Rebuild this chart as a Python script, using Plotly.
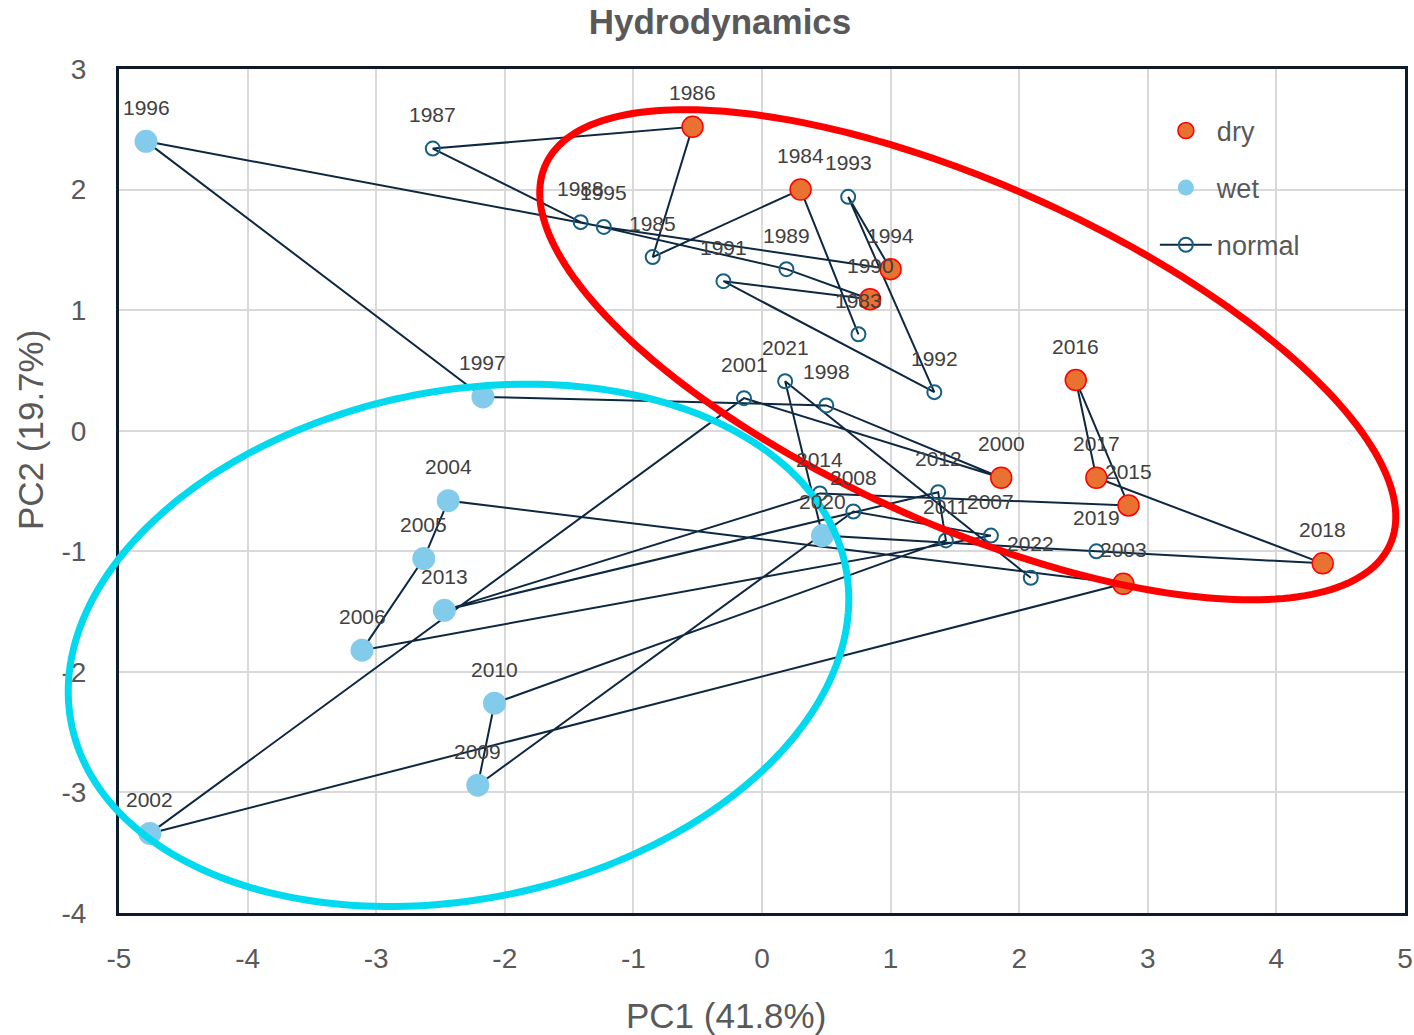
import numpy as np
import plotly.graph_objects as go

# PCA scores per year (PC1, PC2) and hydrological class
years = [1983, 1984, 1985, 1986, 1987, 1988, 1989, 1990, 1991, 1992,
         1993, 1994, 1995, 1996, 1997, 1998, 2000, 2001, 2002, 2003,
         2004, 2005, 2006, 2007, 2008, 2009, 2010, 2011, 2012, 2013,
         2014, 2015, 2016, 2017, 2018, 2019, 2020, 2021, 2022]
pc1 = [0.75, 0.30, -0.85, -0.54, -2.56, -1.41, 0.19, 0.84, -0.30, 1.34,
       0.67, 1.00, -1.23, -4.79, -2.17, 0.50, 1.86, -0.14, -4.76, 2.81,
       -2.44, -2.63, -3.11, 1.78, 0.71, -2.21, -2.08, 1.43, 1.37, -2.47,
       0.45, 2.85, 2.44, 2.60, 4.36, 2.60, 0.47, 0.18, 2.09]
pc2 = [0.80, 2.00, 1.44, 2.52, 2.34, 1.73, 1.34, 1.09, 1.24, 0.32,
       1.94, 1.34, 1.69, 2.40, 0.28, 0.21, -0.39, 0.27, -3.34, -1.27,
       -0.58, -1.06, -1.82, -0.87, -0.67, -2.94, -2.26, -0.91, -0.51, -1.49,
       -0.52, -0.62, 0.42, -0.39, -1.10, -1.00, -0.87, 0.41, -1.22]
klass = ["normal", "dry", "normal", "dry", "normal", "normal", "normal", "dry", "normal", "normal",
         "normal", "dry", "normal", "wet", "wet", "normal", "dry", "normal", "wet", "dry",
         "wet", "wet", "wet", "normal", "normal", "wet", "wet", "normal", "normal", "wet",
         "normal", "dry", "dry", "dry", "dry", "normal", "wet", "normal", "normal"]

x_ticks = [-5, -4, -3, -2, -1, 0, 1, 2, 3, 4, 5]
y_ticks = [-4, -3, -2, -1, 0, 1, 2, 3]
x_range = [-5, 5]
y_range = [-4, 3]

# Cluster outlines: centre (data units), semi-axes and tilt (screen pixels / degrees)
dry_cluster = dict(cx=1.60, cy=0.63, a=463, b=170, tilt=24.2, color="#ff0000")
wet_cluster = dict(cx=-2.36, cy=-1.78, a=395, b=254, tilt=-11.6, color="#00d9ee")

W, H = 1414, 1035
margin = dict(l=119, r=9, t=69, b=122, pad=0)
plot_w = W - margin["l"] - margin["r"]
plot_h = H - margin["t"] - margin["b"]

LINE_COLOR = "#0e2841"
TEXT_GREY = "#595959"
LABEL_GREY = "#404040"


def subset(cls):
    idx = [i for i, k in enumerate(klass) if k == cls]
    return [pc1[i] for i in idx], [pc2[i] for i in idx]


fig = go.Figure()

# chronological trajectory through all years
fig.add_trace(go.Scatter(x=pc1, y=pc2, mode="lines", showlegend=False,
                         line=dict(color=LINE_COLOR, width=2), hoverinfo="skip"))

dx, dy = subset("dry")
fig.add_trace(go.Scatter(x=dx, y=dy, mode="markers", name="dry",
                         marker=dict(size=21, color="#e97132",
                                     line=dict(color="#ff0000", width=1.5))))
wx, wy = subset("wet")
fig.add_trace(go.Scatter(x=wx, y=wy, mode="markers", name="wet",
                         marker=dict(size=23, color="#83cbeb", line=dict(width=0))))
nx, ny = subset("normal")
fig.add_trace(go.Scatter(x=nx, y=ny, mode="markers", name="normal", showlegend=False,
                         legendgroup="normal",
                         marker=dict(size=14, symbol="circle-open", color="#156082",
                                     line=dict(width=2))))
# legend entry for the "normal" series: trajectory line with open marker
fig.add_trace(go.Scatter(x=[None], y=[None], mode="lines+markers", name="normal",
                         legendgroup="normal",
                         line=dict(color=LINE_COLOR, width=2),
                         marker=dict(size=14, symbol="circle-open", color="#156082",
                                     line=dict(width=2))))

# year labels above each point
for yr, xv, yv in zip(years, pc1, pc2):
    fig.add_annotation(x=xv, y=yv, text=str(yr), showarrow=False, yshift=34,
                       font=dict(family="Liberation Sans", size=21, color=LABEL_GREY))


def ellipse_path(c, n=240):
    sx = plot_w / (x_range[1] - x_range[0])
    sy = plot_h / (y_range[1] - y_range[0])
    th = np.radians(c["tilt"])
    t = np.linspace(0, 2 * np.pi, n)
    px = c["a"] * np.cos(t) * np.cos(th) - c["b"] * np.sin(t) * np.sin(th)
    py = c["a"] * np.cos(t) * np.sin(th) + c["b"] * np.sin(t) * np.cos(th)
    xd = c["cx"] + px / sx
    yd = c["cy"] - py / sy
    xp = (xd - x_range[0]) / (x_range[1] - x_range[0])
    yp = (yd - y_range[0]) / (y_range[1] - y_range[0])
    pts = [f"{a:.5f},{b:.5f}" for a, b in zip(xp, yp)]
    return "M" + " L".join(pts) + " Z"


for c in (dry_cluster, wet_cluster):
    fig.add_shape(type="path", path=ellipse_path(c), xref="paper", yref="paper",
                  line=dict(color=c["color"], width=7), fillcolor="rgba(0,0,0,0)",
                  layer="above")

# axis titles
fig.add_annotation(text="PC1 (41.8%)", xref="paper", yref="paper",
                   x=(726 - margin["l"]) / plot_w, y=-(1016 - (H - margin["b"])) / plot_h,
                   showarrow=False, xanchor="center", yanchor="middle",
                   font=dict(family="Liberation Sans", size=35, color=TEXT_GREY))
fig.add_annotation(text="PC2 (19.7%)", xref="paper", yref="paper", textangle=-90,
                   x=-(margin["l"] - 30) / plot_w, y=(H - margin["b"] - 430) / plot_h,
                   showarrow=False, xanchor="center", yanchor="middle",
                   font=dict(family="Liberation Sans", size=35, color=TEXT_GREY))

axis_common = dict(showgrid=True, gridcolor="#d9d9d9", gridwidth=2, zeroline=False,
                   showline=True, linecolor="#0d1b2a", linewidth=3, mirror=True,
                   ticks="", tickfont=dict(family="Liberation Sans", size=28, color=TEXT_GREY),
                   automargin=False)

fig.update_layout(
    width=W, height=H, margin=margin,
    paper_bgcolor="white", plot_bgcolor="white",
    title=dict(text="<b>Hydrodynamics</b>", x=720 / W, xanchor="center",
               y=1 - 22 / H, yanchor="middle", yref="container", xref="container",
               font=dict(family="Liberation Sans", size=35, color=TEXT_GREY)),
    xaxis=dict(range=x_range, tickvals=x_ticks, ticktext=[str(v) for v in x_ticks],
               ticklabelstandoff=18, **axis_common),
    yaxis=dict(range=y_range, tickvals=y_ticks, ticktext=[str(v) for v in y_ticks],
               ticklabelstandoff=24, **axis_common),
    legend=dict(x=0.8055, y=0.9556, xanchor="left", yanchor="top", bgcolor="rgba(0,0,0,0)",
                font=dict(family="Liberation Sans", size=27, color=TEXT_GREY),
                itemwidth=52, tracegroupgap=19),
    showlegend=True,
)

fig.write_html("out.html")
